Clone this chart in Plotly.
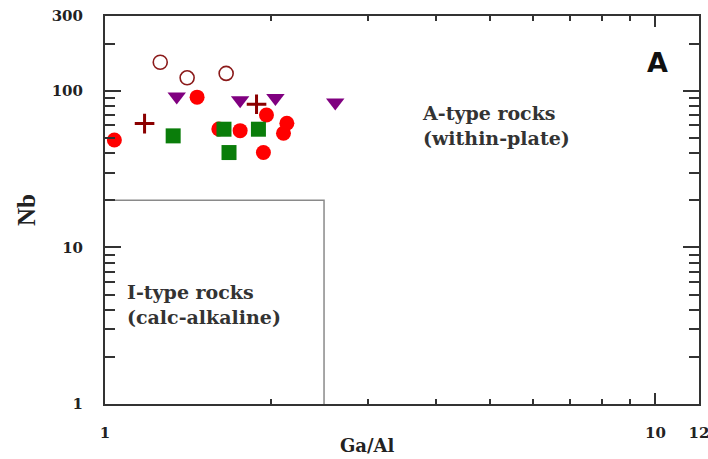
import plotly.graph_objects as go

# ---- data (Ga/Al x 10^4 vs Nb) ----
open_circle_x = [1.26, 1.41, 1.66]
open_circle_y = [152, 121, 129]

triangle_x = [1.35, 1.76, 2.04, 2.62]
triangle_y = [92, 87, 90, 84]

red_circle_x = [1.04, 1.47, 1.965, 2.14, 2.11, 1.76, 1.61, 1.94]
red_circle_y = [48.5, 91, 70, 62, 53.5, 55.6, 57, 40.3]

square_x = [1.33, 1.645, 1.90, 1.68]
square_y = [51.5, 56.8, 56.8, 40.3]

plus_x = [1.18, 1.885]
plus_y = [61.7, 82]

# I-type field boundary
boundary_x = [1, 2.5, 2.5]
boundary_y = [20, 20, 1]

x_tickvals = [1, 10, 12]
x_ticktext = ["1", "10", "12"]
x_minor = [2, 3, 4, 5, 6, 7, 8, 9]
y_tickvals = [1, 10, 100, 300]
y_ticktext = ["1", "10", "100", "300"]
y_minor = [2, 3, 4, 5, 6, 7, 8, 9, 20, 30, 40, 50, 60, 70, 80, 90, 200]

serif = "Liberation Serif, Times New Roman, serif"
wide_serif = "DejaVu Serif, serif"

fig = go.Figure()

fig.add_trace(go.Scatter(x=boundary_x, y=boundary_y, mode="lines",
                         line=dict(color="#8a8a8a", width=1.5), hoverinfo="skip"))

fig.add_trace(go.Scatter(x=open_circle_x, y=open_circle_y, mode="markers",
                         marker=dict(symbol="circle-open", size=14,
                                     color="#8B1A1A", line=dict(width=1.6, color="#8B1A1A"))))
fig.add_trace(go.Scatter(x=triangle_x, y=triangle_y, mode="markers",
                         marker=dict(symbol="triangle-down", size=16, color="#800080")))
fig.add_trace(go.Scatter(x=red_circle_x, y=red_circle_y, mode="markers",
                         marker=dict(symbol="circle", size=15, color="#FF0000")))
fig.add_trace(go.Scatter(x=square_x, y=square_y, mode="markers",
                         marker=dict(symbol="square", size=15, color="#0A7D0A")))
fig.add_trace(go.Scatter(x=plus_x, y=plus_y, mode="markers",
                         marker=dict(symbol="cross-thin", size=14, color="#8B0000",
                                     line=dict(width=3, color="#8B0000"))))

fig.update_layout(
    width=708, height=459,
    margin=dict(l=105, r=9, t=16, b=55),
    paper_bgcolor="white", plot_bgcolor="white",
    showlegend=False,
    font=dict(family=serif, color="#222"),
    xaxis=dict(type="log", range=[0, 1.0792], tickvals=x_tickvals, ticktext=x_ticktext,
               ticks="inside", ticklen=11, tickwidth=1.5, tickcolor="#333",
               showline=True, linecolor="#333", linewidth=2, mirror="ticks",
               showgrid=False, zeroline=False, automargin=False,
               ticklabeloverflow="allow",
               tickfont=dict(family=wide_serif, size=15, color="#222", weight="bold"),
               ticklabelstandoff=14,
               minor=dict(tickvals=x_minor, ticks="inside", ticklen=5, tickwidth=1.5,
                          tickcolor="#333", showgrid=False)),
    yaxis=dict(type="log", range=[0, 2.4771], tickvals=y_tickvals, ticktext=y_ticktext,
               ticks="inside", ticklen=16, tickwidth=1.5, tickcolor="#333",
               showline=True, linecolor="#333", linewidth=2, mirror="ticks",
               showgrid=False, zeroline=False, automargin=False,
               ticklabeloverflow="allow",
               tickfont=dict(family=wide_serif, size=15, color="#222", weight="bold"),
               ticklabelstandoff=17,
               title=dict(text="Nb", font=dict(family=serif, size=25, color="#222", weight="bold"),
                          standoff=9),
               minor=dict(tickvals=y_minor, ticks="inside", ticklen=10, tickwidth=1.5,
                          tickcolor="#333", showgrid=False)),
    annotations=[
        dict(text="Ga/Al", xref="paper", yref="paper", x=(367 - 105) / 594, y=-(445 - 404) / 388,
             xanchor="center", yanchor="middle",
             showarrow=False, font=dict(family=wide_serif, size=18, color="#222", weight="bold")),
        dict(text="A-type rocks<br>(within-plate)", xref="paper", yref="paper",
             x=(420 - 105) / 594, y=(404 - 125) / 388, xanchor="left", yanchor="middle",
             align="left", showarrow=False,
             font=dict(family=wide_serif, size=19, color="#333", weight="bold")),
        dict(text="I-type rocks<br>(calc-alkaline)", xref="paper", yref="paper",
             x=(125 - 105) / 594, y=(404 - 304) / 388, xanchor="left", yanchor="middle",
             align="left", showarrow=False,
             font=dict(family=wide_serif, size=19, color="#333", weight="bold")),
        dict(text="A", xref="paper", yref="paper",
             x=(657 - 105) / 594, y=(404 - 62) / 388, xanchor="center", yanchor="middle",
             showarrow=False,
             font=dict(family="DejaVu Sans, sans-serif", size=27, color="#111",
                       weight="bold")),
    ],
)

fig.write_html("out.html", config={"displayModeBar": False},
               post_script="document.body.style.margin='0';document.body.style.overflow='hidden';")
